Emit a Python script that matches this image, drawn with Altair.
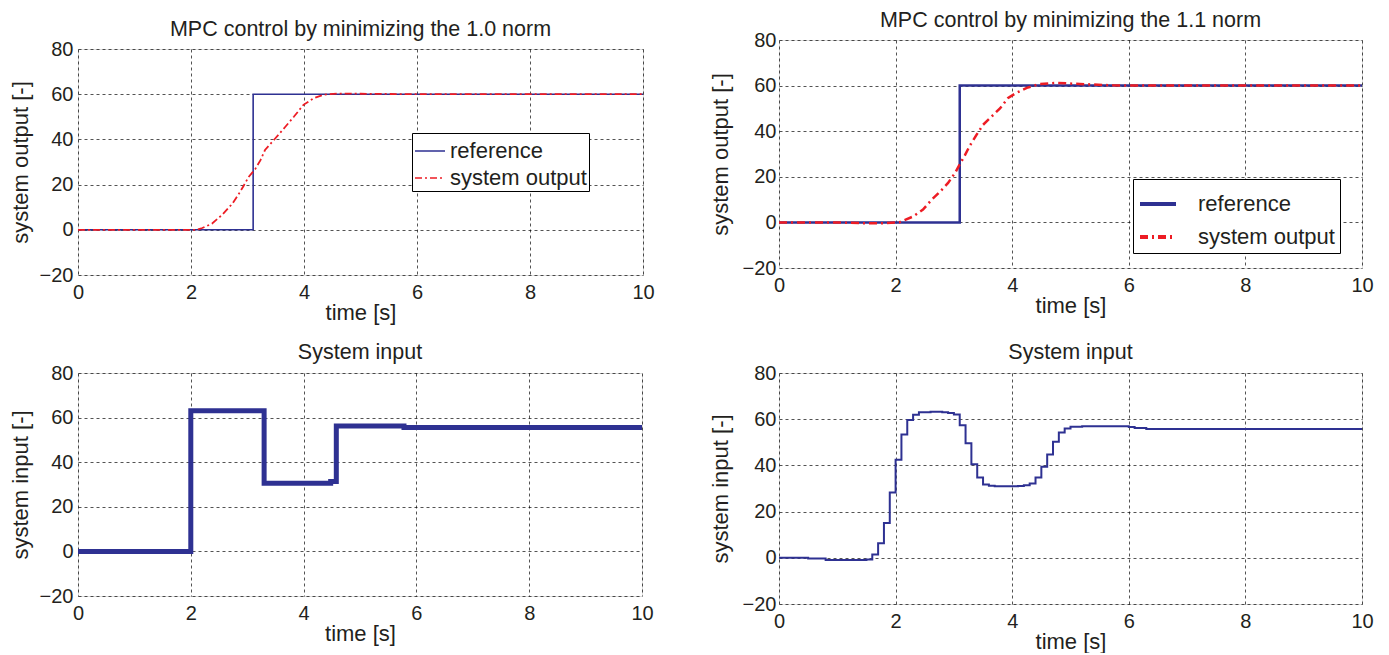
import altair as alt
import pandas as pd

# ---------------- data ----------------
SERIES = ["reference", "system output"]

TITLE_TL = "MPC control by minimizing the 1.0 norm"
TITLE_TR = "MPC control by minimizing the 1.1 norm"
TITLE_IN = "System input"

# top-left (1.0 norm)
ref1_t = [0, 3.1, 10]
ref1_y = [0, 60, 60]
out1_t = [0, 2.1, 2.2, 2.37, 2.55, 2.73, 2.84, 2.93, 3.02, 3.14, 3.23, 3.31, 3.49, 3.67,
          3.82, 3.99, 4.17, 4.35, 4.6, 5.0, 6.0, 10]
out1_y = [0, 0, 0.8, 2.7, 6.6, 11.5, 15.6, 19.4, 23.4, 27, 30.8, 35.3, 40.4, 45.6,
          50, 55.3, 58.2, 59.8, 60.3, 60.2, 60, 60]

# top-right (1.1 norm)
ref2_t = [0, 3.1, 10]
ref2_y = [0, 60, 60]
out2_t = [0, 1.0, 1.5, 1.73, 2.07, 2.30, 2.47, 2.62, 2.76, 2.90, 3.02, 3.10, 3.19, 3.27,
          3.39, 3.50, 3.65, 3.79, 3.93, 4.07, 4.25, 4.47, 4.76, 5.16, 5.73, 6.5, 10]
out2_y = [0, 0, -0.4, -0.4, 0.1, 2.6, 5.6, 10, 13.4, 17.3, 21.7, 25.5, 29.5, 33.5,
          38.5, 42.8, 46.5, 50, 54.6, 56.8, 59, 60.7, 61.2, 60.7, 60.1, 60, 60]

# bottom-left input (1.0 norm)
in1_t = [0, 2.0, 3.3, 4.48, 4.58, 5.78, 10]
in1_y = [0, 63.1, 30.6, 31.3, 56.2, 55.6, 55.6]

# bottom-right input (1.1 norm), sample time 0.1 s
in2_t = [0, 0.5, 0.8, 1.5, 1.6, 1.7, 1.8, 1.9, 2.0, 2.1, 2.2, 2.3, 2.4, 2.6, 2.8, 2.9, 3.0,
         3.1, 3.2, 3.3, 3.4, 3.5, 3.6, 3.7, 4.1, 4.2, 4.3, 4.4, 4.5, 4.6, 4.7, 4.8, 4.9,
         5.0, 5.2, 5.8, 6.0, 6.1, 6.3, 10]
in2_y = [0, -0.3, -1.0, -0.7, 1.4, 6.3, 15.1, 28.3, 42.5, 53.4, 59.7, 61.9, 63.0, 63.2,
         63.0, 62.7, 62.0, 57.4, 49.6, 40.5, 34.8, 31.7, 31.2, 31.0, 31.1, 31.4, 32.2,
         34.8, 39.4, 44.7, 50.2, 54.2, 56.0, 56.7, 57.0, 56.9, 56.6, 56.2, 55.8, 55.8]

X_TICKS = [0, 2, 4, 6, 8, 10]
Y_TICKS = [-20, 0, 20, 40, 60, 80]

# ---------------- style ----------------
BLUE = "#2e3192"
RED = "#ed1c24"
FONT = "Liberation Sans"
TXT = "#231f20"
TITLE_SIZE = 21.5


def xaxis():
    return alt.Axis(values=X_TICKS, title="time [s]", grid=True, ticks=False, domain=False,
                    labelFontSize=20, titleFontSize=22, labelPadding=7, titlePadding=0,
                    gridDash=[3, 3], gridColor="black", gridWidth=0.8, gridOpacity=0.85,
                    labelColor=TXT, titleColor=TXT, labelFont=FONT, titleFont=FONT,
                    titleFontWeight="normal", labelFlush=False)


def yaxis(title, lp, tp):
    return alt.Axis(values=Y_TICKS, title=title, grid=True, ticks=False, domain=False,
                    labelFontSize=20, titleFontSize=22, labelPadding=lp, titlePadding=tp,
                    gridDash=[3, 3], gridColor="black", gridWidth=0.8, gridOpacity=0.85,
                    labelColor=TXT, titleColor=TXT, labelFont=FONT, titleFont=FONT,
                    titleFontWeight="normal", labelFlush=False)


XS = alt.Scale(domain=[0, 10], nice=False, zero=False)
YS = alt.Scale(domain=[-20, 80], nice=False, zero=False)


def title_layer(text, w, dy):
    df = pd.DataFrame({"label": [text]})
    return alt.Chart(df).mark_text(font=FONT, fontSize=TITLE_SIZE, color=TXT,
                                   baseline="alphabetic", align="center").encode(
        x=alt.value(w / 2), y=alt.value(dy), text="label:N")


def output_panel(rt, ry, ot, oy, ttl, ytitle_pad, ylab_pad, w, h, lw, dash, legend):
    ref_df = pd.DataFrame({"t": rt, "y": ry, "series": SERIES[0]})
    out_df = pd.DataFrame({"t": ot, "y": oy, "series": SERIES[1]})
    color = alt.Color("series:N", scale=alt.Scale(domain=SERIES, range=[BLUE, RED]),
                      legend=legend)
    sdash = alt.StrokeDash("series:N", scale=alt.Scale(domain=SERIES, range=[[1, 0], dash]),
                           legend=legend)
    x = alt.X("t:Q", scale=XS, axis=xaxis())
    y = alt.Y("y:Q", scale=YS, axis=yaxis("system output [-]", ylab_pad, ytitle_pad))
    ref = alt.Chart(ref_df).mark_line(interpolate="step-after", strokeWidth=lw[0]).encode(
        x=x, y=y, color=color, strokeDash=sdash)
    out = alt.Chart(out_df).mark_line(strokeWidth=lw[1]).encode(
        x=x, y=y, color=color, strokeDash=sdash)
    return alt.layer(ref, out, title_layer(ttl, w, -13)).properties(width=w, height=h)


def input_panel(t, u, ytitle_pad, ylab_pad, w, h, lw):
    df = pd.DataFrame({"t": t, "u": u})
    line = alt.Chart(df).mark_line(interpolate="step-after", strokeWidth=lw, color=BLUE,
                                   strokeJoin="miter").encode(
        x=alt.X("t:Q", scale=XS, axis=xaxis()),
        y=alt.Y("u:Q", scale=YS, axis=yaxis("system input [-]", ylab_pad, ytitle_pad)),
    )
    return alt.layer(line, title_layer(TITLE_IN, w, -14)).properties(width=w, height=h)


leg_tl = alt.Legend(orient="none", legendX=334, legendY=84, title=None, strokeColor="black",
                    fillColor="white", padding=2, labelFontSize=22, labelFont=FONT,
                    labelColor=TXT, symbolType="stroke", symbolSize=900,
                    symbolStrokeWidth=1.6, labelOffset=4, rowPadding=0, cornerRadius=0)
leg_tr = alt.Legend(orient="none", legendX=354, legendY=139, title=None, strokeColor="black",
                    fillColor="white", padding=5, labelFontSize=22, labelFont=FONT,
                    labelColor=TXT, symbolType="stroke", symbolSize=1296,
                    symbolStrokeWidth=4, labelOffset=20, rowPadding=2, cornerRadius=0)

tl = output_panel(ref1_t, ref1_y, out1_t, out1_y, TITLE_TL,
                  7, 5, 565, 226, (1.6, 1.8), [7, 3, 2, 3], leg_tl)
tr = output_panel(ref2_t, ref2_y, out2_t, out2_y, TITLE_TR,
                  10, 3, 583, 228, (2.5, 2.5), [8, 4, 2, 4], leg_tr)
bl = input_panel(in1_t, in1_y, 7, 5, 564, 223, 5)
br = input_panel(in2_t, in2_y, 10, 3, 583, 231, 2)

# empty strip that moves the left column 9 px lower than the right one
spacer = alt.Chart(pd.DataFrame({"v": [0]})).mark_point(opacity=0).encode(
    x=alt.X("v:Q", axis=None), y=alt.Y("v:Q", axis=None)
).properties(width=10, height=9, view=alt.ViewBackground(stroke="transparent"))

tl_block = alt.vconcat(spacer, tl, spacing=0, bounds="flush").resolve_scale(
    color="independent", strokeDash="independent")
left = alt.vconcat(tl_block, bl, spacing=17).resolve_scale(color="independent",
                                                            strokeDash="independent")
right = alt.vconcat(tr, br, spacing=24).resolve_scale(color="independent",
                                                        strokeDash="independent")
chart = alt.hconcat(left, right, spacing=53).resolve_scale(
    color="independent", strokeDash="independent"
).properties(
    padding={"left": 0, "top": 1, "right": 5, "bottom": 0}
).configure_view(stroke="black", strokeWidth=1.3).configure(background="white")

chart.save("out.html", embed_options={"renderer": "svg", "actions": False})
